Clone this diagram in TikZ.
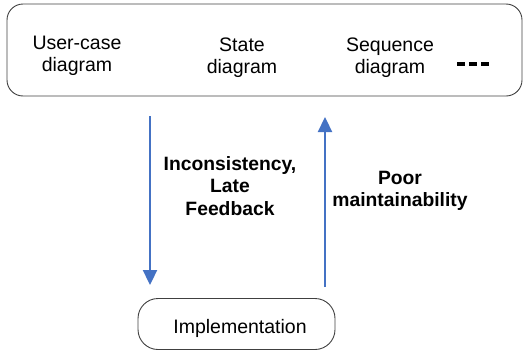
\documentclass[tikz,border=0pt]{standalone}
\usepackage{fontspec}
\setmainfont{Liberation Sans}
\usetikzlibrary{arrows.meta}
\definecolor{flowblue}{HTML}{4472C4}
\definecolor{boxline}{HTML}{404040}
\begin{document}
\begin{tikzpicture}[x=1pt,y=-1pt,
  panel/.style={draw=boxline,line width=0.9pt,rounded corners=16pt},
  lbl/.style={font=\fontsize{19.5}{22}\selectfont,align=center,inner sep=0pt},
  blbl/.style={lbl,font=\fontsize{19.3}{22.5}\selectfont\bfseries},
  flow/.style={draw=flowblue,line width=2.3pt,-{Triangle[length=15pt,width=14pt]}}]
\useasboundingbox (0,0) rectangle (524,351);
% model panel with the three diagram kinds
\node[panel,minimum width=515pt,minimum height=92pt] (models) at (264.5,50) {};
\node[lbl] (usecase) at (77,56) {User-case\\diagram};
\node[lbl] (state) at (242,58) {State\\diagram};
\node[lbl] (sequence) at (390,58) {Sequence\\diagram};
\draw[line width=4pt,dash pattern=on 8pt off 4pt] (457,64) -- (489,64);
% implementation box
\node[panel,rounded corners=20pt,minimum width=197pt,minimum height=51pt] (impl) at (236.5,324) {};
\node[lbl] (impltext) at (240,328) {Implementation};
% forward and backward flows
\coordinate (downstart) at (150,116);
\coordinate (downend) at (150,285);
\coordinate (upstart) at (325,287);
\coordinate (upend) at (325,117);
\draw[flow] (downstart) -- (downend);
\draw[flow] (upstart) -- (upend);
\node[blbl] (fwd) at (230,186) {Inconsistency,\\Late\\Feedback};
\node[blbl] (bwd) at (400,191) {Poor\\maintainability};
\end{tikzpicture}
\end{document}
